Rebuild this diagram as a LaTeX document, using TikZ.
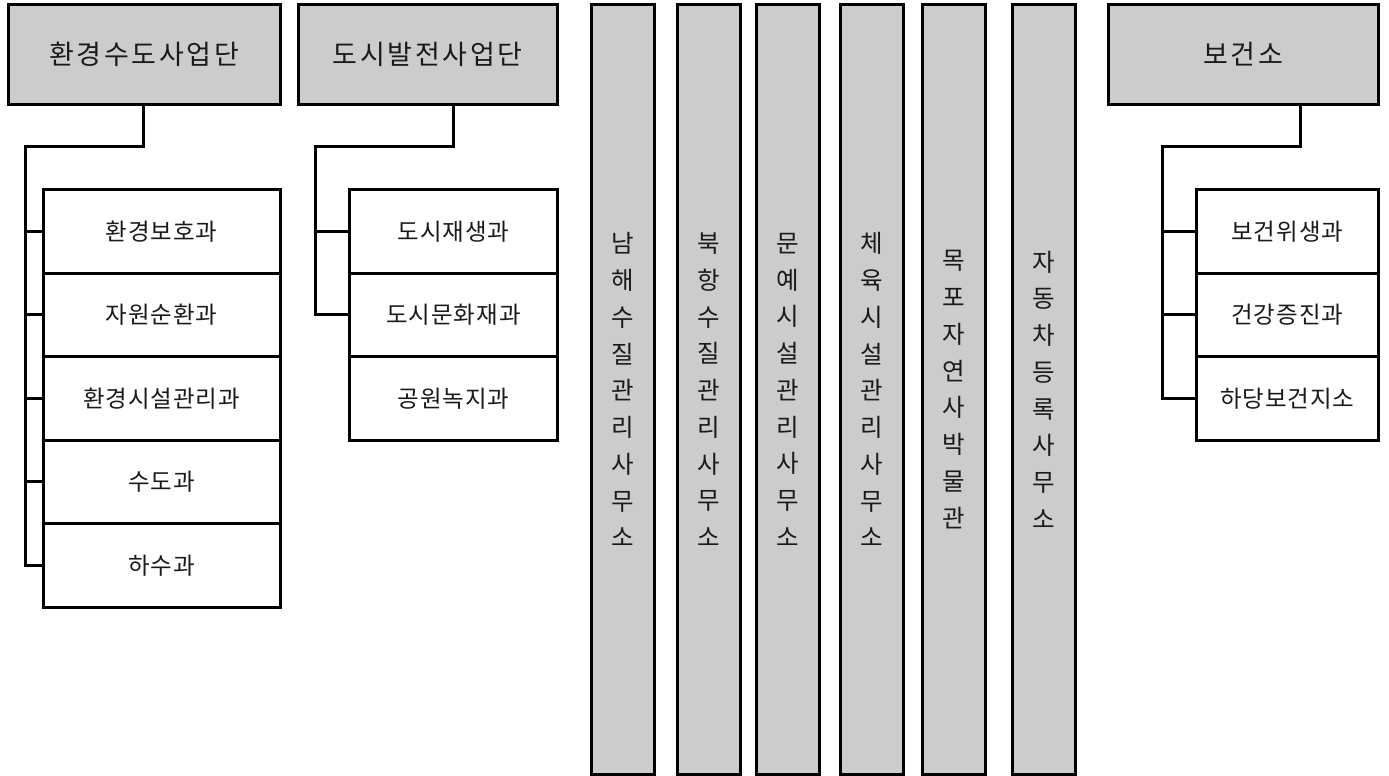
\documentclass[tikz,border=0pt]{standalone}
\usepackage{fontspec}
\newfontfamily\krhead{Noto Sans CJK KR}[LetterSpace=10]
\newfontfamily\krchild{Noto Sans CJK KR}[LetterSpace=4]
\newfontfamily\krvert{Noto Sans CJK KR}
\definecolor{boxgray}{HTML}{CCCCCC}
\definecolor{txt}{HTML}{1A1A1A}
\tikzset{
  headbox/.style={draw=black, line width=3pt, fill=boxgray, inner sep=0pt, text=txt,
    minimum height=100pt, font=\krhead\fontsize{27}{32}\selectfont},
  childbox/.style={draw=black, line width=3pt, fill=white, inner sep=0pt, text=txt,
    minimum height=83.5pt, font=\krchild\fontsize{23.5}{28}\selectfont},
  barbox/.style={draw=black, line width=3pt, fill=boxgray, inner sep=0pt, text=txt,
    minimum height=769.9pt, align=center, font=\krvert\fontsize{24.5}{36.75}\selectfont},
  conn/.style={draw=black, line width=3pt, line join=miter}
}
\begin{document}
\begin{tikzpicture}[x=1pt,y=-1pt]
\useasboundingbox (0,0) rectangle (1389,776);

% group 1
\node[headbox, minimum width=271.5pt] (h1) at (144.25,54.6) {환경수도사업단};
\node[childbox, minimum width=237pt] (c11) at (161.5,231.25) {환경보호과};
\node[childbox, minimum width=237pt] (c12) at (161.5,314.75) {자원순환과};
\node[childbox, minimum width=237pt] (c13) at (161.5,398.25) {환경시설관리과};
\node[childbox, minimum width=237pt] (c14) at (161.5,481.75) {수도과};
\node[childbox, minimum width=237pt] (c15) at (161.5,565.25) {하수과};
\coordinate (s1) at (25.3,146);
\draw[conn] ([xshift=-1.25pt]h1.south) |- (s1) |- (c15.west);
\draw[conn] (s1) |- (c11.west);
\draw[conn] (s1) |- (c12.west);
\draw[conn] (s1) |- (c13.west);
\draw[conn] (s1) |- (c14.west);

% group 2
\node[headbox, minimum width=259.3pt] (h2) at (427.65,54.6) {도시발전사업단};
\node[childbox, minimum width=207.6pt] (c21) at (453.5,231.25) {도시재생과};
\node[childbox, minimum width=207.6pt] (c22) at (453.5,314.75) {도시문화재과};
\node[childbox, minimum width=207.6pt] (c23) at (453.5,398.25) {공원녹지과};
\coordinate (s2) at (315.7,146);
\draw[conn] ([xshift=26pt]h2.south) |- (s2) |- (c22.west);
\draw[conn] (s2) |- (c21.west);

% bars
\node[barbox, minimum width=63pt] (b1) at (622.8,389.65) {남\\해\\수\\질\\관\\리\\사\\무\\소};
\node[barbox, minimum width=63pt] (b2) at (709.2,389.65) {북\\항\\수\\질\\관\\리\\사\\무\\소};
\node[barbox, minimum width=62.6pt] (b3) at (788,389.65) {문\\예\\시\\설\\관\\리\\사\\무\\소};
\node[barbox, minimum width=62.6pt] (b4) at (872,389.65) {체\\육\\시\\설\\관\\리\\사\\무\\소};
\node[barbox, minimum width=63pt] (b5) at (954.2,389.65) {목\\포\\자\\연\\사\\박\\물\\관};
\node[barbox, minimum width=62.6pt] (b6) at (1044,389.65) {자\\동\\차\\등\\록\\사\\무\\소};

% group 3
\node[headbox, minimum width=269.3pt] (h3) at (1243.35,54.6) {보건소};
\node[childbox, minimum width=181.3pt] (c31) at (1287.35,231.25) {보건위생과};
\node[childbox, minimum width=181.3pt] (c32) at (1287.35,314.75) {건강증진과};
\node[childbox, minimum width=181.3pt] (c33) at (1287.35,398.25) {하당보건지소};
\coordinate (s3) at (1162,146);
\draw[conn] ([xshift=57.35pt]h3.south) |- (s3) |- (c33.west);
\draw[conn] (s3) |- (c31.west);
\draw[conn] (s3) |- (c32.west);
\end{tikzpicture}
\end{document}
